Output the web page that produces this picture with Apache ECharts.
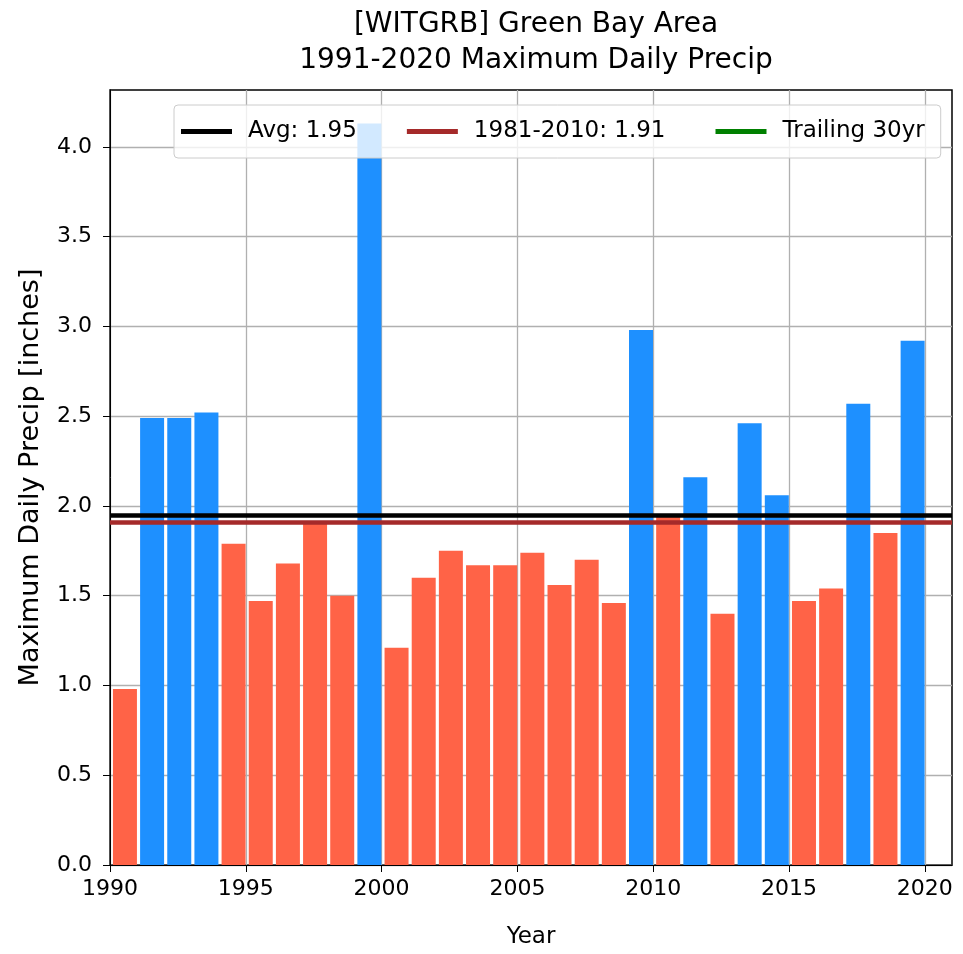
<!DOCTYPE html>
<html><head><meta charset="utf-8">
<script src="https://cdn.jsdelivr.net/npm/echarts@6/dist/echarts.min.js"></script>
<style>html,body{margin:0;padding:0;background:#fff}#c{width:963px;height:954px}</style>
</head><body><div id="c"></div>
<script>
const years = [1991,1992,1993,1994,1995,1996,1997,1998,1999,2000,2001,2002,2003,2004,2005,2006,2007,2008,2009,2010,2011,2012,2013,2014,2015,2016,2017,2018,2019,2020];
const precip = [0.98,2.49,2.49,2.52,1.79,1.47,1.68,1.90,1.50,4.13,1.21,1.60,1.75,1.67,1.67,1.74,1.56,1.70,1.46,2.98,1.94,2.16,1.40,2.46,2.06,1.47,1.54,2.57,1.85,2.92];
const avgValue = 1.95;
const climoValue = 1.91;
const legendNames = ['Avg: 1.95','1981-2010: 1.91','Trailing 30yr'];
const xTicks = [1990,1995,2000,2005,2010,2015,2020];
const yTicks = [0,0.5,1.0,1.5,2.0,2.5,3.0,3.5,4.0];

const FONT = "'DejaVu Sans',sans-serif";
const chart = echarts.init(document.getElementById('c'));
const barData = years.map((y,i)=>({
  value:[y-0.45, precip[i]],
  itemStyle:{color: precip[i] > avgValue ? '#1e90ff' : '#ff6347'}
}));
chart.setOption({
  animation:false,
  backgroundColor:'#fff',
  title:{
    text:'[WITGRB] Green Bay Area\n1991-2020 Maximum Daily Precip',
    left:531, textAlign:'center', top:2,
    textStyle:{fontFamily:FONT,fontSize:28,fontWeight:'normal',color:'#000',lineHeight:36}
  },
  legend:{
    data:legendNames.map(n=>({name:n})),
    left:174, top:105, padding:[15,16,15,7],
    itemWidth:51, itemHeight:5, itemGap:50, icon:'rect',
    borderColor:'#cccccc', borderWidth:1, borderRadius:4,
    backgroundColor:'rgba(255,255,255,0.8)',
    textStyle:{fontFamily:FONT,fontSize:23,color:'#000',padding:[0,0,0,11]}
  },
  grid:{left:110, right:11, top:90, bottom:88, show:true, borderColor:'#000', borderWidth:1.5, backgroundColor:'transparent'},
  xAxis:{
    type:'value', min:1990, max:2021,
    name:'Year', nameLocation:'middle', nameGap:61,
    nameTextStyle:{fontFamily:FONT,fontSize:23,color:'#000'},
    axisLine:{show:true,lineStyle:{color:'#000'}},
    axisTick:{show:true,length:7,customValues:xTicks,lineStyle:{color:'#000'}},
    axisLabel:{fontFamily:FONT,fontSize:22,color:'#000',margin:13,customValues:xTicks,
      formatter:v=>String(v)},
    splitLine:{show:true,lineStyle:{color:'#b0b0b0',width:1.3}}
  },
  yAxis:{
    type:'value', min:0, max:4.317,
    name:'Maximum Daily Precip [inches]', nameLocation:'middle', nameGap:66,
    nameTextStyle:{fontFamily:FONT,fontSize:27,color:'#000'},
    axisLine:{show:true,lineStyle:{color:'#000'}},
    axisTick:{show:true,length:7,customValues:yTicks,lineStyle:{color:'#000'}},
    axisLabel:{fontFamily:FONT,fontSize:22,color:'#000',margin:18,customValues:yTicks,
      formatter:v=>Number(v).toFixed(1)},
    splitLine:{show:true,lineStyle:{color:'#b0b0b0',width:1.3}}
  },
  series:[
    {type:'bar', data:barData, barWidth:24, z:2},
    {type:'line', name:legendNames[0], data:[], color:'#000', lineStyle:{color:'#000'},
     markLine:{symbol:'none', silent:true, label:{show:false},
       lineStyle:{color:'#000',width:4.5,type:'solid'}, data:[{yAxis:avgValue}]}, z:3},
    {type:'line', name:legendNames[1], data:[], color:'#a52a2a', lineStyle:{color:'#a52a2a'},
     markLine:{symbol:'none', silent:true, label:{show:false},
       lineStyle:{color:'#a52a2a',width:4.5,type:'solid'}, data:[{yAxis:climoValue}]}, z:3},
    {type:'line', name:legendNames[2], data:[], color:'#008000', lineStyle:{color:'#008000'}}
  ]
});
</script></body></html>
